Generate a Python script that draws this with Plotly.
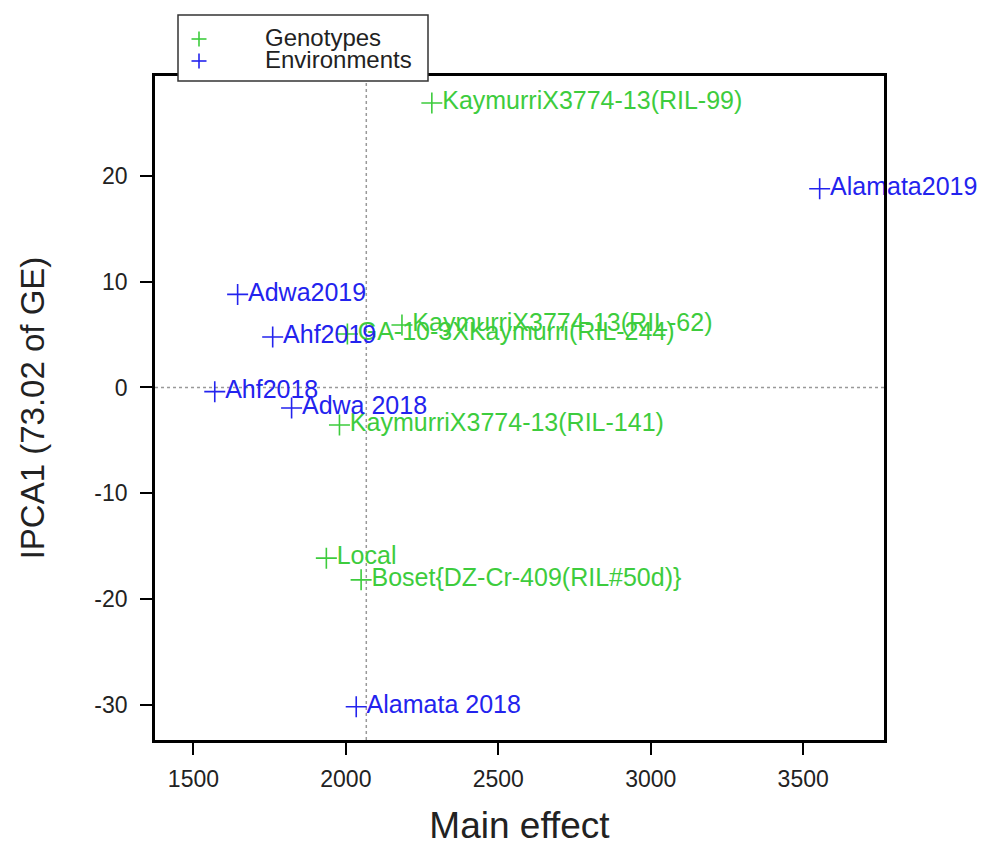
import plotly.graph_objects as go

# ---- data ----
genotype_names = [
    "KaymurriX3774-13(RIL-99)",
    "KaymurriX3774-13(RIL-62)",
    "GA-10-3XKaymurri(RIL-244)",
    "KaymurriX3774-13(RIL-141)",
    "Local",
    "Boset{DZ-Cr-409(RIL#50d)}",
]
genotype_main = [2282, 2184, 2005, 1979, 1936, 2050]
genotype_ipca1 = [26.9, 5.9, 5.05, -3.55, -16.15, -18.2]

env_names = ["Alamata2019", "Adwa2019", "Ahf2019", "Ahf2018", "Adwa 2018", "Alamata 2018"]
env_main = [3554, 1645, 1760, 1570, 1822, 2034]
env_ipca1 = [18.8, 8.8, 4.77, -0.4, -1.95, -30.2]

grand_mean = 2067
x_ticks = [1500, 2000, 2500, 3000, 3500]
y_ticks = [-30, -20, -10, 0, 10, 20]
y_tick_text = ["-30", "-20", "-10", "0", "10", "20"]

series_names = ["Genotypes", "Environments"]

GREEN = "#3dcc3d"
BLUE = "#2323ee"
FONT = "Liberation Sans, Arial, sans-serif"
TXT = "#222222"

fig = go.Figure()
for name, xs, ys, labels, col in [
    (series_names[0], genotype_main, genotype_ipca1, genotype_names, GREEN),
    (series_names[1], env_main, env_ipca1, env_names, BLUE),
]:
    fig.add_trace(go.Scatter(
        x=xs, y=ys, text=labels, name=name,
        mode="markers+text", textposition="middle right",
        marker=dict(symbol="cross-thin", size=15, color=col,
                    line=dict(color=col, width=1.6)),
        textfont=dict(family=FONT, size=25, color=col),
        cliponaxis=False, showlegend=False,
    ))

# reference lines
fig.add_shape(type="line", xref="x", yref="paper", x0=grand_mean, x1=grand_mean,
              y0=0, y1=1, line=dict(color="#999999", width=1.5, dash="dot"), layer="below")
fig.add_shape(type="line", xref="paper", yref="y", x0=0, x1=1, y0=0, y1=0,
              line=dict(color="#999999", width=1.5, dash="dot"), layer="below")

# ---- legend box drawn in paper coordinates ----
L, R, T, B = 155, 98, 76, 106
W, H = 982, 846
PW, PH = W - L - R, H - T - B
def px(xp):
    return (xp - L) / PW
def py(yp):
    return (T + PH - yp) / PH

fig.add_shape(type="rect", xref="paper", yref="paper",
              x0=px(178), x1=px(428), y0=py(81), y1=py(15),
              line=dict(color="#333333", width=1.5), fillcolor="white", layer="above")
for (ly, col, name) in [(39, GREEN, series_names[0]), (61, BLUE, series_names[1])]:
    for dx0, dx1, dy0, dy1 in [(-7.5, 7.5, 0, 0), (0, 0, -7.5, 7.5)]:
        fig.add_shape(type="line", xref="paper", yref="paper",
                      xsizemode="pixel", ysizemode="pixel",
                      xanchor=px(199), yanchor=py(ly),
                      x0=dx0, x1=dx1, y0=dy0, y1=dy1,
                      line=dict(color=col, width=1.6), layer="above")
    fig.add_annotation(xref="paper", yref="paper", x=px(263), y=py(ly - 1),
                       xanchor="left", yanchor="middle", showarrow=False,
                       text=name, font=dict(family=FONT, size=24, color=TXT))

axis_common = dict(showline=True, linecolor="black", linewidth=2.8, mirror=True,
                   ticks="outside", ticklen=12, tickwidth=2, tickcolor="black",
                   showgrid=False, zeroline=False, automargin=False,
                   tickfont=dict(family=FONT, size=23, color=TXT))

fig.update_layout(
    width=W, height=H,
    margin=dict(l=L, r=R, t=T, b=B),
    plot_bgcolor="white", paper_bgcolor="white",
    showlegend=False,
    xaxis=dict(range=[1374, 3765], tickvals=x_ticks, ticklabelstandoff=4,
               title=dict(text="Main effect", font=dict(family=FONT, size=37, color=TXT),
                          standoff=31),
               **axis_common),
    yaxis=dict(range=[-33.35, 29.46], tickvals=y_ticks, ticktext=y_tick_text,
               ticklabelstandoff=8,
               title=dict(text="IPCA1 (73.02 of GE)", font=dict(family=FONT, size=33, color=TXT),
                          standoff=40),
               **axis_common),
)

fig.write_html("out.html", config={"displayModeBar": False},
               post_script="document.body.style.margin='0';")
